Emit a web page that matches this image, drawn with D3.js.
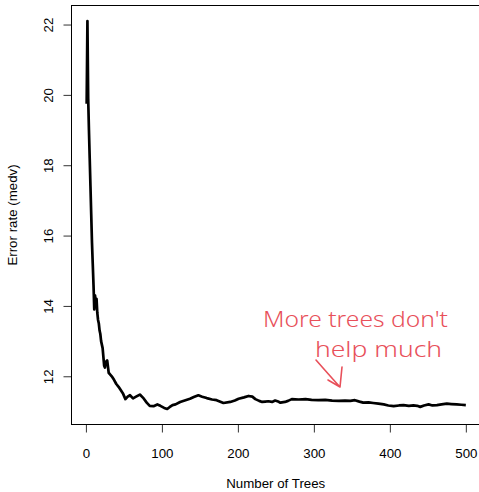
<!DOCTYPE html>
<html>
<head>
    <meta charset="UTF-8">
    <style>
        body {
            margin: 0;
            background-color: #fff;
        }

        .chart text {
            font-family: "Liberation Sans", Arial, Helvetica, sans-serif;
            font-size: 13.3px;
            fill: #000;
        }

        .chart .note {
            font-family: "Noto Sans", sans-serif;
            font-size: 21px;
            font-weight: 300;
            fill: #e8505a;
        }
    </style>
    <title>Error rate vs trees</title>
</head>
<body>
    <svg class="chart" id="d3chart" width="479" height="492"></svg>

    <script src="https://cdn.jsdelivr.net/npm/d3@7"></script>
    <script>
        // OOB error as the forest grows
        const trees = [1, 2, 3, 4, 5, 6, 7, 8, 9, 10, 11, 12, 13, 14, 15, 16, 17, 18, 19, 20,
            22, 24, 25, 26, 28, 30, 32, 34, 37, 40, 43, 46, 49, 52, 55, 58, 62, 66, 71, 76,
            80, 84, 89, 94, 98, 103, 107, 110, 114, 118, 124, 131, 137, 142, 148, 153, 159,
            166, 172, 181, 190, 196, 201, 208, 214, 219, 223, 228, 232, 236, 240, 245, 249,
            253, 256, 262, 266, 271, 280, 289, 297, 306, 315, 324, 333, 341, 348, 354, 360,
            365, 372, 378, 385, 392, 398, 405, 412, 418, 425, 431, 436, 440, 445, 451, 456,
            462, 468, 475, 481, 488, 494, 500];
        const errorRate = [19.75, 22.1, 19.9, 19.0, 18.2, 17.4, 16.6, 15.8, 15.2, 14.6, 13.9,
            14.3, 14.1, 14.2, 13.8, 13.6, 13.5, 13.3, 13.2, 13.0,
            12.8, 12.3, 12.25, 12.4, 12.45, 12.1, 12.05, 12.0, 11.9, 11.78, 11.7, 11.6, 11.5,
            11.35, 11.42, 11.46, 11.37, 11.42, 11.48, 11.37,
            11.25, 11.16, 11.15, 11.2, 11.16, 11.1, 11.07, 11.12, 11.18, 11.2, 11.27, 11.32,
            11.36, 11.41, 11.46, 11.42, 11.38,
            11.34, 11.32, 11.24, 11.27, 11.31, 11.36, 11.4, 11.44, 11.42, 11.35, 11.3, 11.27,
            11.28, 11.29, 11.27, 11.31,
            11.28, 11.25, 11.27, 11.3, 11.35, 11.34, 11.35, 11.33, 11.32, 11.33, 11.31, 11.3,
            11.31, 11.3, 11.32, 11.28,
            11.25, 11.26, 11.24, 11.22, 11.2, 11.17, 11.15, 11.17, 11.18, 11.16, 11.17, 11.16,
            11.13, 11.17, 11.2, 11.17,
            11.18, 11.2, 11.22, 11.21, 11.2, 11.19, 11.18];
        const xTicks = [0, 100, 200, 300, 400, 500];
        const yTicks = [12, 14, 16, 18, 20, 22];

        const points = trees.map((t, i) => ({ t: t, v: errorRate[i] }));

        const plotLeft = 71.5, plotRight = 481, plotTop = 5.5, plotBottom = 424.5;

        // R style: 4% padding around the data range
        function padded(ext) {
            const d = (ext[1] - ext[0]) * 0.04;
            return [ext[0] - d, ext[1] + d];
        }

        const x = d3.scaleLinear().domain(padded(d3.extent(trees))).range([plotLeft, plotRight]);
        const y = d3.scaleLinear().domain(padded(d3.extent(errorRate))).range([plotBottom, plotTop]);

        const svg = d3.select("#d3chart");

        // x axis
        const xAxis = svg.append("g")
            .attr("transform", `translate(0, ${plotBottom})`)
            .call(d3.axisBottom(x).tickValues(xTicks).tickSize(8).tickPadding(16).tickSizeOuter(0));
        xAxis.select(".domain").remove();

        // y axis
        const yAxis = svg.append("g")
            .attr("transform", `translate(${plotLeft}, 0)`)
            .call(d3.axisLeft(y).tickValues(yTicks).tickSize(8).tickSizeOuter(0).tickFormat(d3.format("d")));
        yAxis.select(".domain").remove();
        yAxis.selectAll(".tick text")
            .attr("x", null).attr("dy", null)
            .attr("text-anchor", "middle")
            .attr("transform", "translate(-19, 0) rotate(-90)");

        svg.selectAll(".tick line").attr("stroke", "#333");
        svg.selectAll(".tick text")
            .style("font-family", '"Liberation Sans", Arial, sans-serif')
            .style("font-size", "13.3px");

        // plot frame
        svg.append("rect")
            .attr("x", plotLeft).attr("y", plotTop)
            .attr("width", plotRight - plotLeft).attr("height", plotBottom - plotTop)
            .attr("fill", "none").attr("stroke", "#000").attr("stroke-width", 1);

        // the error curve
        const line = d3.line().x(d => x(d.t)).y(d => y(d.v));
        svg.append("path")
            .datum(points)
            .attr("d", line)
            .attr("fill", "none")
            .attr("stroke", "#000")
            .attr("stroke-width", 2.7)
            .attr("stroke-linejoin", "round");

        // axis titles
        svg.append("text")
            .attr("x", (plotLeft + plotRight) / 2 - 0.5).attr("y", 488)
            .attr("text-anchor", "middle")
            .text("Number of Trees");

        svg.append("text")
            .attr("transform", `translate(17, ${(plotTop + plotBottom) / 2}) rotate(-90)`)
            .attr("text-anchor", "middle")
            .text("Error rate (medv)");

        // handwritten note
        svg.append("text").attr("class", "note")
            .attr("x", 263).attr("y", 327)
            .attr("textLength", 185).attr("lengthAdjust", "spacingAndGlyphs")
            .text("More trees don't");
        svg.append("text").attr("class", "note")
            .attr("x", 315).attr("y", 357)
            .attr("textLength", 127).attr("lengthAdjust", "spacingAndGlyphs")
            .text("help much");

        const arrow = d3.path();
        arrow.moveTo(316, 360);
        arrow.quadraticCurveTo(330, 376, 340, 387);
        arrow.moveTo(328, 380);
        arrow.lineTo(340, 387);
        arrow.lineTo(342, 367);
        svg.append("path")
            .attr("d", arrow.toString())
            .attr("fill", "none")
            .attr("stroke", "#e8505a")
            .attr("stroke-width", 1.6)
            .attr("stroke-linecap", "round")
            .attr("stroke-linejoin", "round");
    </script>
</body>
</html>
